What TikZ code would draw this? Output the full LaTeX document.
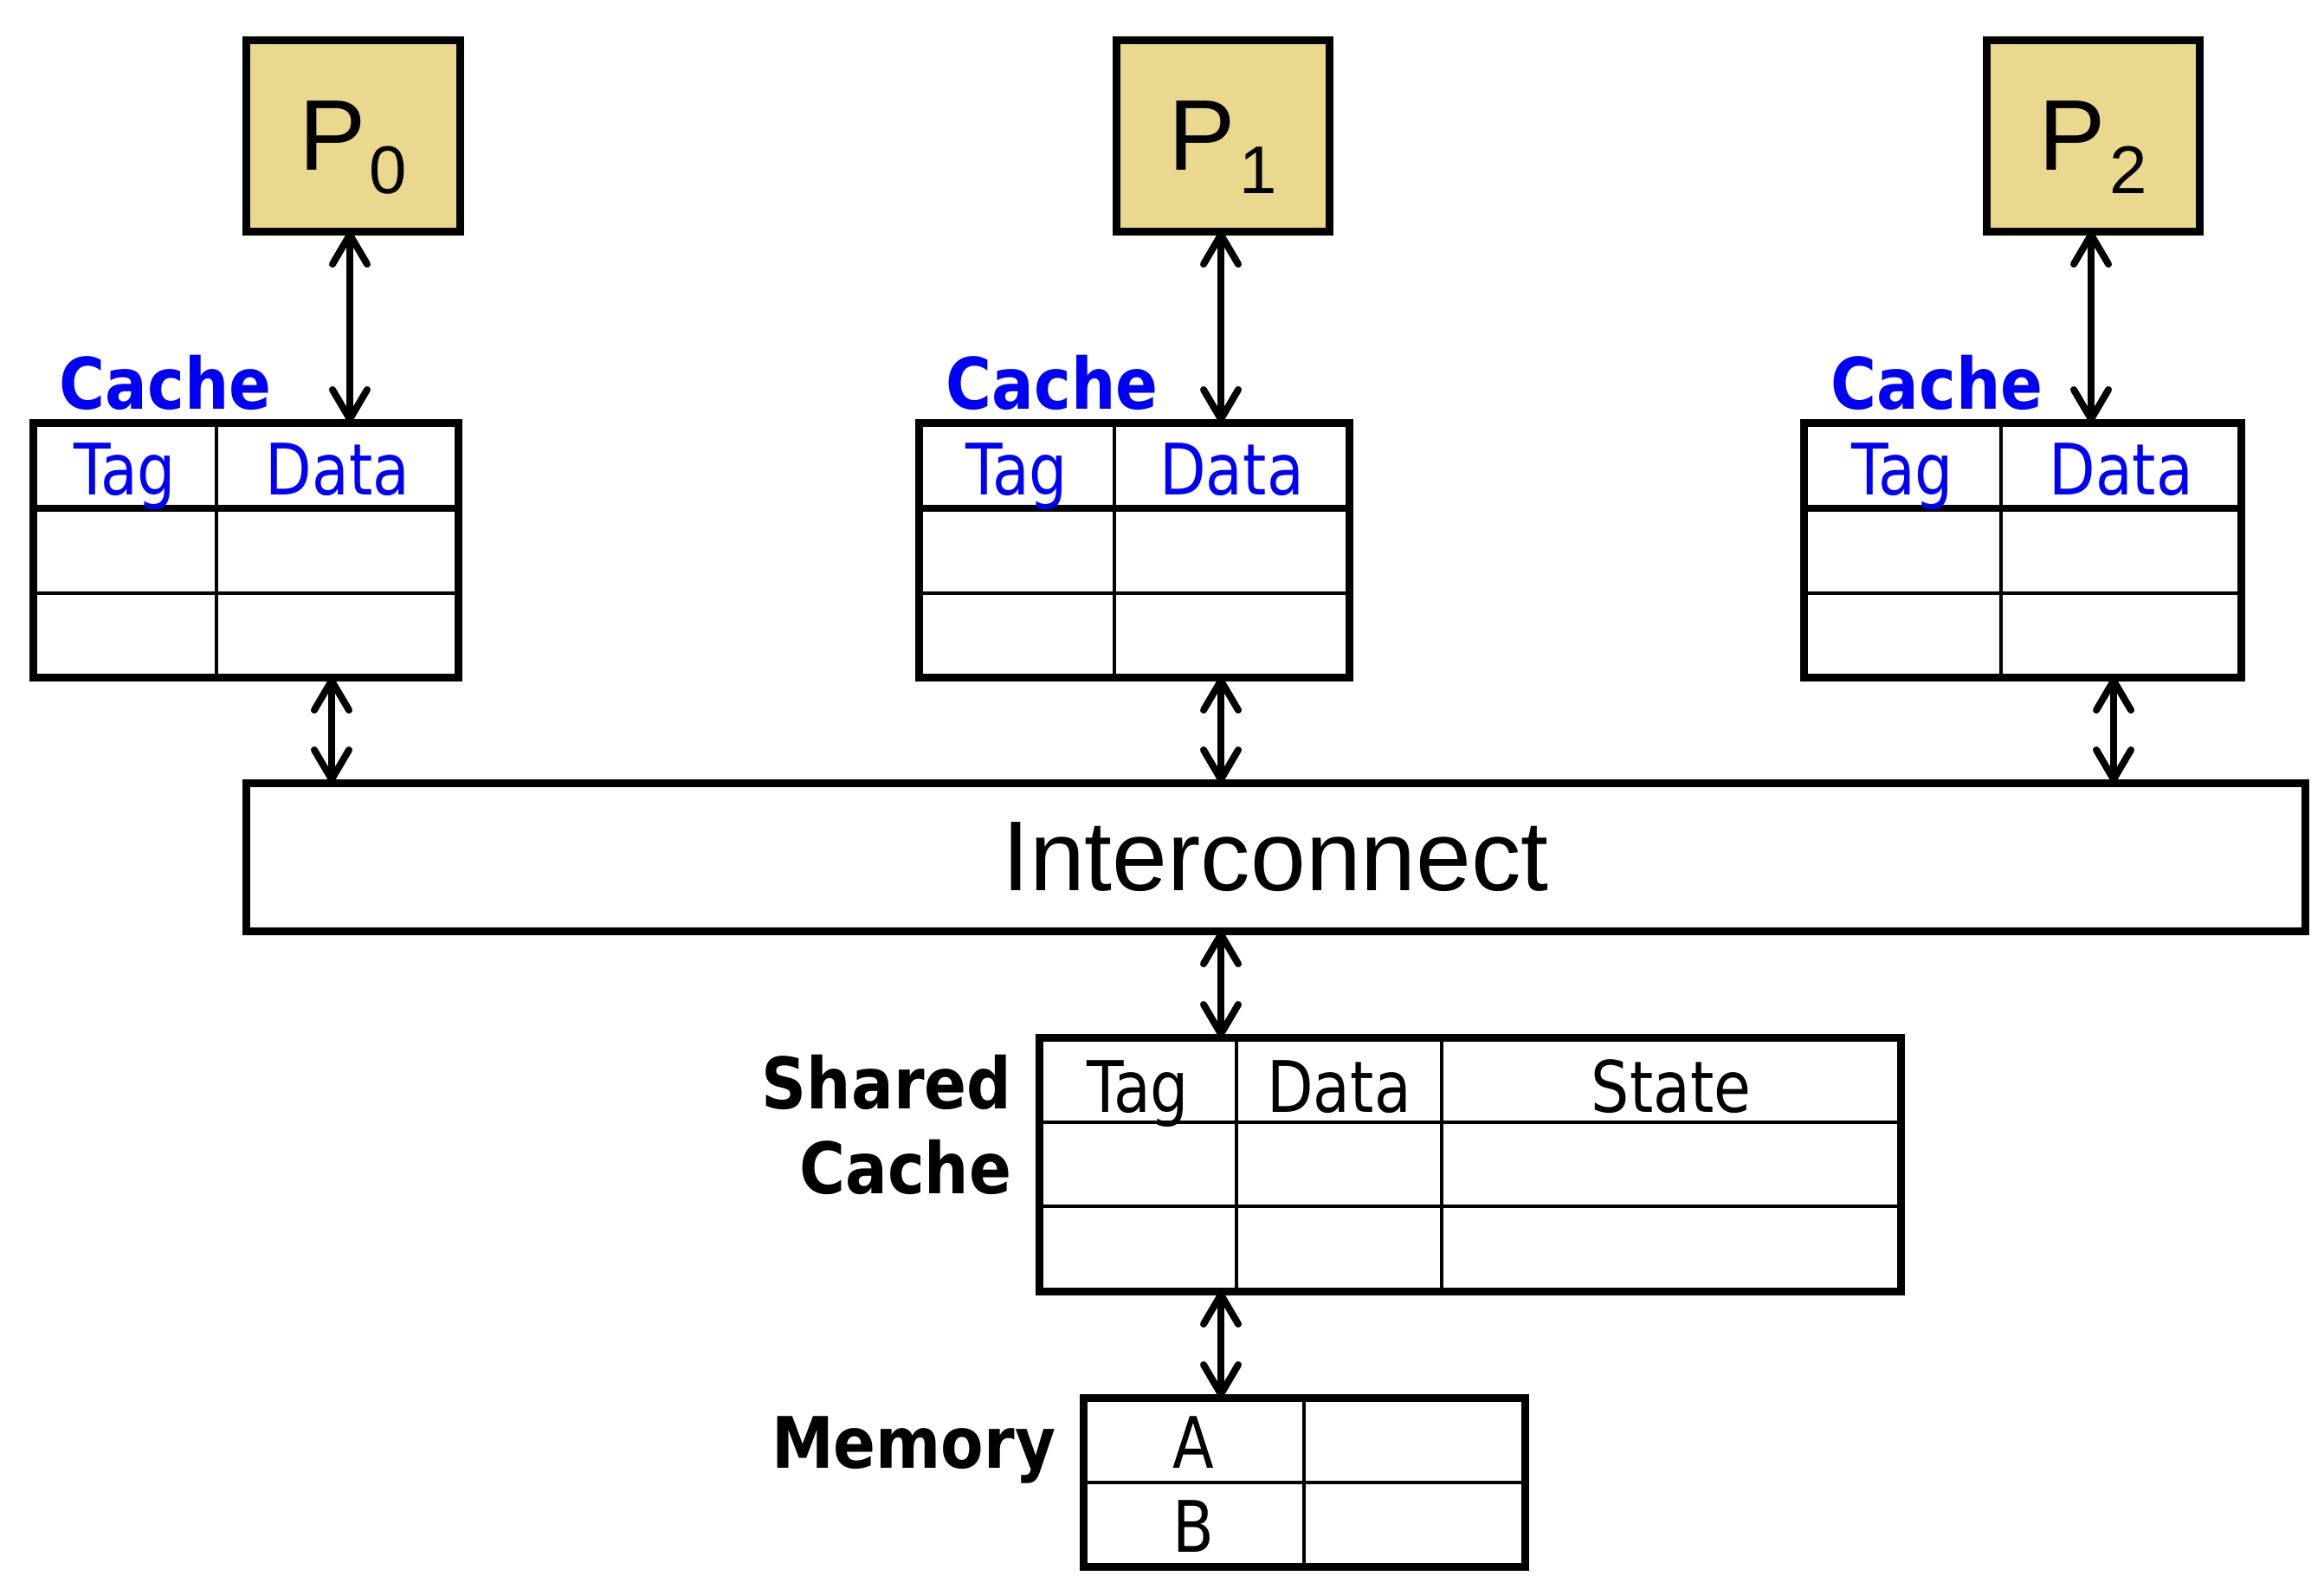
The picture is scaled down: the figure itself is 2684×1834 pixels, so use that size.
\documentclass[tikz,border=0pt]{standalone}
\usepackage{fontspec}
\setmainfont{Liberation Sans}
\newfontfamily\tahr[FakeStretch=0.85]{DejaVu Sans}
\newfontfamily\tahb[FakeStretch=0.88]{DejaVu Sans}
\usetikzlibrary{arrows.meta}
\definecolor{pfill}{RGB}{234,216,142}
\definecolor{cblue}{RGB}{0,0,250}
\tikzset{
  box/.style={draw, line width=2.25pt, inner sep=0pt, outer sep=0pt},
  pbox/.style={box, fill=pfill, font=\fontsize{29}{30}\selectfont},
  arr/.style={line width=2pt, {Straight Barb[length=8.5pt,width=10pt,round]}-{Straight Barb[length=8.5pt,width=10pt,round]}},
  thickrule/.style={line width=2pt},
  thinrule/.style={line width=0.9pt},
  midrule/.style={line width=1.1pt},
  celltext/.style={inner sep=0pt, anchor=base, font=\tahr\fontsize{20.5}{24}\selectfont},
  bluetext/.style={celltext, text=cblue},
  blabel/.style={inner sep=0pt, font=\tahb\bfseries\fontsize{20.5}{24}\selectfont},
}
\newcommand\psub[1]{P\kern1pt\smash{\raisebox{-6.75pt}{\fontsize{19.5}{20}\selectfont #1}}}
\begin{document}
\begin{tikzpicture}[x=0.25pt,y=-0.25pt]
\useasboundingbox (0,0) rectangle (2684,1834);

% processors
\node[pbox, minimum width=61.75pt, minimum height=55.25pt] (P0) at (407.5,156.5) {\psub{0}};
\node[pbox, minimum width=61.5pt, minimum height=55.25pt] (P1) at (1412,156.5) {\psub{1}};
\node[pbox, minimum width=61.5pt, minimum height=55.25pt] (P2) at (2417,156.5) {\psub{2}};

% private caches
\node[box, minimum width=122.75pt, minimum height=73.5pt] (C0) at (283.5,635) {};
\draw[thickrule] (38,587) -- (529,587);
\draw[thinrule] (38,685) -- (529,685);
\draw[thinrule] (250,488) -- (250,782);
\node[bluetext] (C0tag) at (144,571) {Tag};
\node[bluetext] (C0data) at (390,571) {Data};
\node[blabel, text=cblue, anchor=base west] (C0lbl) at (68,472) {Cache};

\node[box, minimum width=124.25pt, minimum height=73.5pt] (C1) at (1309.5,635) {};
\draw[thickrule] (1061,587) -- (1558,587);
\draw[thinrule] (1061,685) -- (1558,685);
\draw[thinrule] (1287,488) -- (1287,782);
\node[bluetext] (C1tag) at (1174,571) {Tag};
\node[bluetext] (C1data) at (1422.5,571) {Data};
\node[blabel, text=cblue, anchor=base west] (C1lbl) at (1092,472) {Cache};

\node[box, minimum width=126.25pt, minimum height=73.5pt] (C2) at (2335.5,635) {};
\draw[thickrule] (2083,587) -- (2588,587);
\draw[thinrule] (2083,685) -- (2588,685);
\draw[thinrule] (2311,488) -- (2311,782);
\node[bluetext] (C2tag) at (2197,571) {Tag};
\node[bluetext] (C2data) at (2449.5,571) {Data};
\node[blabel, text=cblue, anchor=base west] (C2lbl) at (2114,472) {Cache};

% interconnect
\node[box, minimum width=594.5pt, minimum height=42.75pt, font=\fontsize{28.7}{30}\selectfont] (I) at (1473,989.5) {Interconnect};

% shared cache
\node[box, minimum width=248.75pt, minimum height=73.25pt] (SC) at (1697.5,1344.5) {};
\draw[midrule] (1200,1296) -- (2195,1296);
\draw[midrule] (1200,1393) -- (2195,1393);
\draw[midrule] (1428,1198) -- (1428,1491);
\draw[midrule] (1665,1198) -- (1665,1491);
\node[celltext] (SCtag) at (1314,1284) {Tag};
\node[celltext] (SCdata) at (1546.5,1284) {Data};
\node[celltext] (SCstate) at (1930,1284) {State};
\node[blabel, anchor=base east] (SClbl1) at (1169,1280) {Shared};
\node[blabel, anchor=base east] (SClbl2) at (1169,1378) {Cache};

% memory
\node[box, minimum width=127.5pt, minimum height=48.75pt] (M) at (1506,1711.5) {};
\draw[thinrule] (1251,1712) -- (1761,1712);
\draw[thinrule] (1506,1614) -- (1506,1809);
\node[celltext] (MA) at (1378.5,1695) {A};
\node[celltext] (MB) at (1378.5,1792) {B};
\node[blabel, anchor=base east] (Mlbl) at (1220,1695) {Memory};

% connector columns
\coordinate (xa0) at (404,0);
\coordinate (xa1) at (1410,0);
\coordinate (xa2) at (2415,0);
\coordinate (xb0) at (383,0);
\coordinate (xb2) at (2441,0);

\draw[arr] (P0.south -| xa0) -- (C0.north -| xa0);
\draw[arr] (P1.south -| xa1) -- (C1.north -| xa1);
\draw[arr] (P2.south -| xa2) -- (C2.north -| xa2);
\draw[arr] (C0.south -| xb0) -- (I.north -| xb0);
\draw[arr] (C1.south -| xa1) -- (I.north -| xa1);
\draw[arr] (C2.south -| xb2) -- (I.north -| xb2);
\draw[arr] (I.south -| xa1) -- (SC.north -| xa1);
\draw[arr] (SC.south -| xa1) -- (M.north -| xa1);
\end{tikzpicture}
\end{document}
